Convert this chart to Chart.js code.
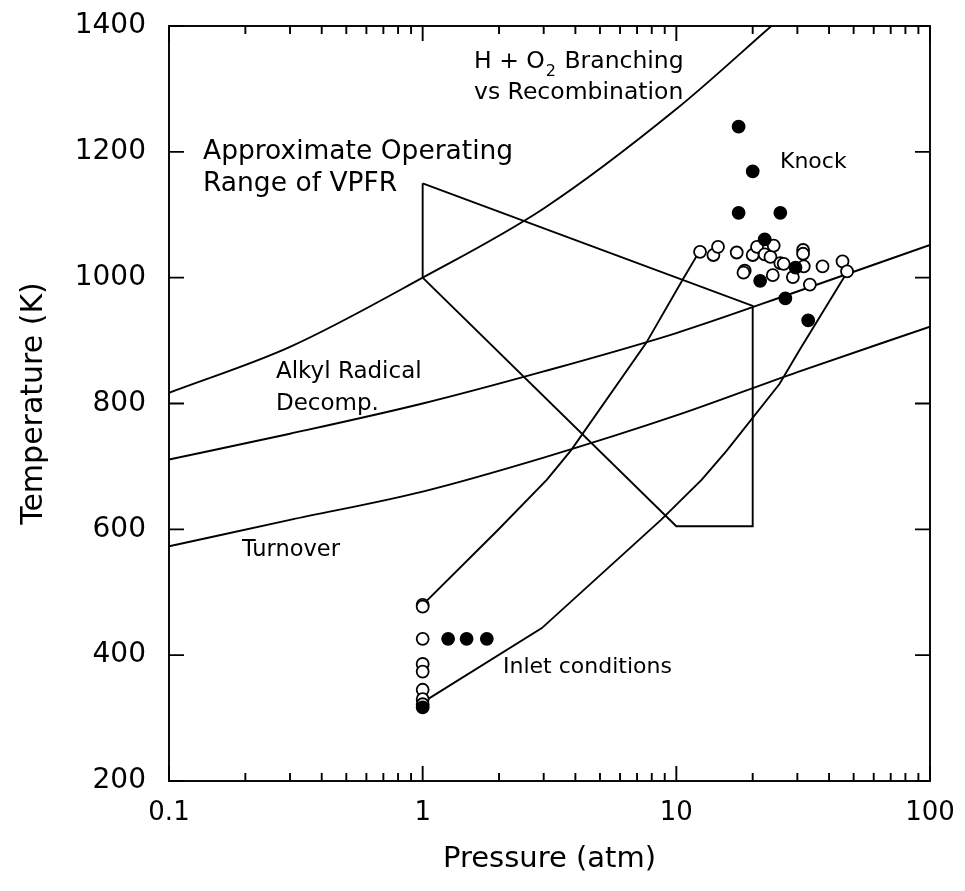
<!DOCTYPE html>
<html>
<head>
<meta charset="utf-8">
<script src="https://cdn.jsdelivr.net/npm/chart.js@4"></script>
<style>
  html, body { margin: 0; padding: 0; background: #fff; }
  canvas { display: block; }
</style>
</head>
<body>
<canvas id="chart" width="965" height="891"></canvas>
<script>
// axis ticks
const pressureTicks = [0.1, 1, 10, 100];
const tempTicks = [200, 400, 600, 800, 1000, 1200, 1400];

// boundary curves, pressure (atm) / temperature (K)
const branchP = [0.1, 0.3, 1, 3, 10, 23.7];
const branchT = [817, 890, 1000, 1110, 1268, 1400];
const alkylP = [0.1, 0.3, 1, 3, 10, 30, 100];
const alkylT = [711, 752, 800, 851, 912, 978, 1052];
const turnP = [0.1, 0.3, 1, 3, 10, 30, 100];
const turnT = [573, 615, 660, 714, 781, 850, 922];

// operating range polygon (closed)
const vpfrP = [1, 20, 20, 10, 1, 1];
const vpfrT = [1150, 955, 605, 605, 1000, 1150];

// compression paths from inlet to knock
const pathAP = [1, 1.98, 3.09, 3.85, 7.6, 10.6, 12.3];
const pathAT = [480, 599, 679, 726, 896, 997, 1041];
const pathBP = [1, 2.95, 8.7, 12.6, 15.8, 25.5, 30.6, 47];
const pathBT = [325, 443, 615, 679, 725, 831, 885, 1008];

// knock points
const knockFilledP = [17.6, 20.0, 17.6, 25.7, 22.3, 29.5, 21.4, 26.9, 33.1];
const knockFilledT = [1240, 1169, 1103, 1103, 1061, 1016, 995, 967, 932];
const knockOpenP = [12.4, 14.0, 14.6, 17.3, 18.6, 18.4, 20.0, 20.8, 22.3, 23.5, 24.2,
                    24.0, 25.7, 26.5, 28.8, 31.6, 31.6, 31.8, 33.6, 37.7, 45.2, 47.1];
const knockOpenT = [1041, 1036, 1049, 1040, 1011, 1008, 1036, 1049, 1037, 1033, 1051,
                    1004, 1023, 1022, 1001, 1044, 1038, 1018, 989, 1018, 1026, 1010];

// inlet points
const inletOpenP = [1, 1, 1, 1, 1, 1, 1, 1];
const inletOpenT = [480, 477, 426, 386, 374, 345, 330, 322];
const inletFilledP = [1, 1.26, 1.49, 1.79];
const inletFilledT = [317, 426, 426, 426];

function pairs(px, ty) {
  return px.map((p, i) => ({ x: p, y: ty[i] }));
}

function curve(label, px, ty, smooth) {
  return {
    label: label,
    data: pairs(px, ty),
    showLine: true,
    borderColor: '#000',
    borderWidth: 1.9,
    pointRadius: 0,
    tension: smooth ? 0.4 : 0,
    cubicInterpolationMode: smooth ? 'monotone' : 'default',
    fill: false
  };
}

function marks(label, px, ty, filled) {
  return {
    label: label,
    data: pairs(px, ty),
    showLine: false,
    pointRadius: 6,
    pointBackgroundColor: filled ? '#000' : '#fff',
    pointBorderColor: '#000',
    pointBorderWidth: 1.8
  };
}

const FONT = '"DejaVu Sans", sans-serif';

// frame, inward tick marks and text labels
const framePlugin = {
  id: 'frame',
  afterDatasetsDraw(chart) {
    const ctx = chart.ctx;
    const a = chart.chartArea;
    const x = chart.scales.x;
    const y = chart.scales.y;
    ctx.save();
    ctx.strokeStyle = '#000';
    ctx.lineWidth = 1.9;
    ctx.strokeRect(a.left, a.top, a.right - a.left, a.bottom - a.top);

    ctx.beginPath();
    pressureTicks.forEach(base => {
      for (let k = 1; k <= 9; k++) {
        const v = base * k;
        if (v > 100.001) break;
        const px = x.getPixelForValue(v);
        const len = k === 1 ? 15 : 8;
        ctx.moveTo(px, a.bottom); ctx.lineTo(px, a.bottom - len);
        ctx.moveTo(px, a.top); ctx.lineTo(px, a.top + len);
      }
    });
    tempTicks.forEach(t => {
      const py = y.getPixelForValue(t);
      ctx.moveTo(a.left, py); ctx.lineTo(a.left + 15, py);
      ctx.moveTo(a.right, py); ctx.lineTo(a.right - 15, py);
    });
    ctx.stroke();

    ctx.fillStyle = '#000';
    ctx.textBaseline = 'middle';
    ctx.textAlign = 'left';

    const put = (text, px, py, size) => {
      ctx.font = size + 'px ' + FONT;
      ctx.fillText(text, px, py);
      return ctx.measureText(text).width;
    };

    // H + O2 with subscript
    let cx = 474;
    cx += put('H + O', cx, 62, 23.5);
    cx += put('2', cx + 1, 72, 16) + 2;
    put(' Branching', cx, 62, 23.5);
    put('vs Recombination', 474, 93, 23.5);

    put('Approximate Operating', 203, 152, 26.5);
    put('Range of VPFR', 203, 184, 26.5);
    put('Knock', 780, 162, 22);
    put('Alkyl Radical', 276, 372, 23);
    put('Decomp.', 276, 404, 23);
    put('Turnover', 242, 550, 22.5);
    put('Inlet conditions', 503, 667, 22);
    ctx.restore();
  }
};

new Chart(document.getElementById('chart').getContext('2d'), {
  type: 'scatter',
  data: {
    datasets: [
      marks('Inlet (knock)', inletFilledP, inletFilledT, true),
      marks('Inlet', inletOpenP, inletOpenT, false),
      marks('Knock', knockFilledP, knockFilledT, true),
      marks('No knock', knockOpenP, knockOpenT, false),
      curve('Path A', pathAP, pathAT, false),
      curve('Path B', pathBP, pathBT, false),
      curve('VPFR', vpfrP, vpfrT, false),
      curve('H + O2', branchP, branchT, true),
      curve('Alkyl', alkylP, alkylT, true),
      curve('Turnover', turnP, turnT, true)
    ]
  },
  options: {
    responsive: false,
    devicePixelRatio: 1,
    animation: false,
    layout: { padding: { top: 26, right: 35, left: 0, bottom: 0 } },
    plugins: { legend: { display: false }, tooltip: { enabled: false } },
    scales: {
      x: {
        type: 'logarithmic',
        min: 0.1,
        max: 100,
        afterBuildTicks: scale => { scale.ticks = pressureTicks.map(v => ({ value: v })); },
        afterFit: scale => {
          scale.height = 110;
          scale.paddingLeft = 0;
          scale.paddingRight = 0;
        },
        grid: { display: false },
        border: { display: false },
        ticks: {
          autoSkip: false,
          maxRotation: 0,
          padding: 9,
          color: '#000',
          font: { family: FONT, size: 26 },
          callback: v => String(v)
        },
        title: {
          display: true,
          text: 'Pressure (atm)',
          color: '#000',
          font: { family: FONT, size: 29 },
          padding: { bottom: 14 }
        }
      },
      y: {
        min: 200,
        max: 1400,
        afterBuildTicks: scale => { scale.ticks = tempTicks.map(v => ({ value: v })); },
        afterFit: scale => {
          scale.width = 169;
          scale.paddingTop = 0;
          scale.paddingBottom = 0;
        },
        grid: { display: false },
        border: { display: false },
        ticks: {
          padding: 15,
          color: '#000',
          font: { family: FONT, size: 28 },
          callback: v => String(v)
        },
        title: {
          display: true,
          text: 'Temperature (K)',
          color: '#000',
          font: { family: FONT, size: 30 },
          padding: { top: 16 }
        }
      }
    }
  },
  plugins: [framePlugin]
});
</script>
</body>
</html>
